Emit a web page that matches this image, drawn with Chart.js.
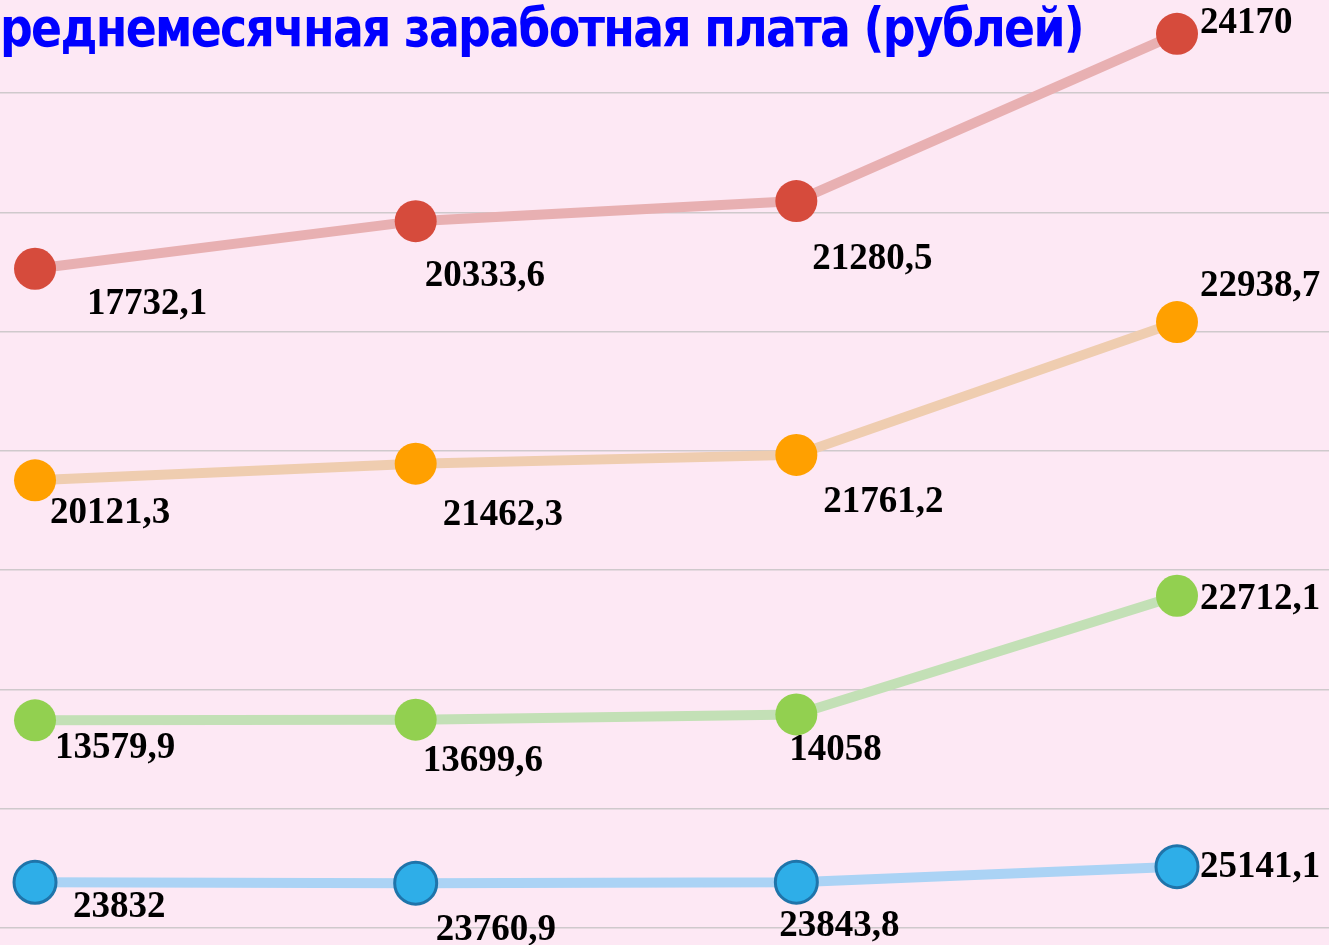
<!DOCTYPE html>
<html>
<head>
<meta charset="utf-8">
<title>Среднемесячная заработная плата</title>
<script src="https://cdn.jsdelivr.net/npm/chart.js@4"></script>
<style>
  html, body { margin: 0; padding: 0; background: #fde8f4; overflow: hidden; }
  #wrap { width: 1329px; height: 945px; position: relative; }
</style>
</head>
<body>
<div id="wrap"><canvas id="wageChart"></canvas></div>
<script>
// Data (stacked line chart, bottom series first)
const periods = ['1', '2', '3', '4'];
const seriesNames = ['Ряд 1', 'Ряд 2', 'Ряд 3', 'Ряд 4'];
const blueValues = [23832, 23760.9, 23843.8, 25141.1];
const greenValues = [13579.9, 13699.6, 14058, 22712.1];
const orangeValues = [20121.3, 21462.3, 21761.2, 22938.7];
const redValues = [17732.1, 20333.6, 21280.5, 24170];
const gridValues = [20000, 30000, 40000, 50000, 60000, 70000, 80000, 90000];
const titleText = 'реднемесячная заработная плата (рублей)';

// label offsets from each marker (dx to left edge of text, dy to text middle)
const labelOffsets = [
    [[38, 23], [20, 45], [-17, 42], [23, -2]],   // blue
    [[20, 26], [7, 39], [-7, 34], [23, 1]],      // green
    [[15, 31], [27, 49], [27, 45], [23, -38]],   // orange
    [[52, 33], [9, 53], [16, 56], [23, -13]]     // red
];

function fmt(v) {
    return String(v).replace('.', ',');
}

function makeSet(name, values, lineColor, dotColor, dotBorder, dotBorderWidth) {
    return {
        label: name,
        data: values.map((v, i) => ({ x: i, y: v })),
        borderColor: lineColor,
        borderWidth: 10,
        backgroundColor: dotColor,
        pointBackgroundColor: dotColor,
        pointBorderColor: dotBorder,
        pointBorderWidth: dotBorderWidth,
        pointRadius: 21,
        pointHoverRadius: 21,
        fill: false,
        tension: 0,
        clip: false
    };
}

const paintBackground = {
    id: 'paintBackground',
    beforeDraw(chart) {
        const ctx = chart.ctx;
        ctx.save();
        ctx.fillStyle = '#fde8f4';
        ctx.fillRect(0, 0, chart.width, chart.height);
        ctx.restore();
    }
};

const valueLabels = {
    id: 'valueLabels',
    afterDatasetsDraw(chart) {
        const ctx = chart.ctx;
        ctx.save();
        ctx.fillStyle = '#000000';
        ctx.font = 'bold 37px "Liberation Serif", "Times New Roman", serif';
        ctx.textAlign = 'left';
        ctx.textBaseline = 'alphabetic';
        chart.data.datasets.forEach((ds, d) => {
            const meta = chart.getDatasetMeta(d);
            meta.data.forEach((pt, i) => {
                const off = labelOffsets[d][i];
                ctx.fillText(fmt(ds.data[i].y), pt.x + off[0], pt.y + off[1] + 12);
            });
        });
        ctx.restore();
    }
};

const slideTitle = {
    id: 'slideTitle',
    afterDraw(chart) {
        const ctx = chart.ctx;
        ctx.save();
        ctx.font = 'bold 53px "DejaVu Sans", sans-serif';
        ctx.letterSpacing = '-2px';
        ctx.fillStyle = '#0000ff';
        ctx.textBaseline = 'alphabetic';
        const w = ctx.measureText(titleText).width;
        ctx.translate(0, 46);
        ctx.scale(1083 / w, 1);
        ctx.fillText(titleText, 0, 0);
        ctx.restore();
    }
};

const ctx = document.getElementById('wageChart').getContext('2d');
window.wageChart = new Chart(ctx, {
    type: 'line',
    data: {
        labels: periods,
        datasets: [
            makeSet(seriesNames[0], blueValues, '#abd3f5', '#2eaee8', '#1f74aa', 3),
            makeSet(seriesNames[1], greenValues, '#c3e0b6', '#92d050', '#92d050', 0),
            makeSet(seriesNames[2], orangeValues, '#efcdb0', '#ffa000', '#ffa000', 0),
            makeSet(seriesNames[3], redValues, '#e8b0b2', '#d64b3c', '#d64b3c', 0)
        ]
    },
    options: {
        responsive: true,
        maintainAspectRatio: false,
        animation: false,
        layout: { padding: 0, autoPadding: false },
        plugins: {
            legend: { display: false },
            title: { display: false },
            tooltip: { enabled: false }
        },
        scales: {
            x: {
                type: 'linear',
                min: -0.092,
                max: 3.3993,
                display: false
            },
            y: {
                stacked: true,
                min: 18575,
                max: 97796,
                afterBuildTicks: (scale) => {
                    scale.ticks = gridValues.map(v => ({ value: v }));
                },
                ticks: { display: false },
                border: { display: false },
                grid: {
                    color: '#cfc9cc',
                    lineWidth: 1.5,
                    drawTicks: false
                }
            }
        }
    },
    plugins: [paintBackground, valueLabels, slideTitle]
});
</script>
</body>
</html>
